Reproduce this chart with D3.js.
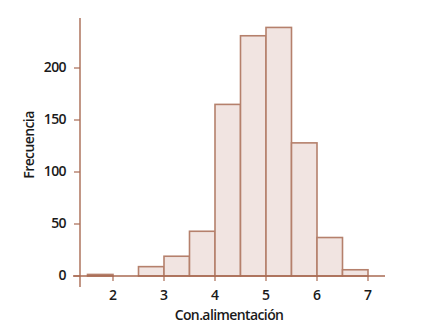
<!DOCTYPE html>
<html><head><meta charset="utf-8">
<script src="https://cdn.jsdelivr.net/npm/d3@7"></script>
<style>body{margin:0;background:#fff}</style>
</head><body>
<svg id="c" width="442" height="336"></svg>
<script>
const binStarts = [1.5, 2.5, 3, 3.5, 4, 4.5, 5, 5.5, 6, 6.5];
const binWidth = 0.5;
const counts = [1.5, 9, 19, 43, 165, 231, 239, 128, 37, 6];
const xTicks = [2, 3, 4, 5, 6, 7];
const yTicks = [0, 50, 100, 150, 200];
const xLabel = "Con.alimentación";
const yLabel = "Frecuencia";

const svg = d3.select("#c");
const axisColor = "#a86a52";
const x = d3.scaleLinear().domain([2, 7]).range([113, 368]);
const y = d3.scaleLinear().domain([0, 200]).range([276, 68]);
const font = "'Open Sans', sans-serif";

// bars
svg.append("g").selectAll("rect").data(binStarts).join("rect")
  .attr("x", (d) => x(d))
  .attr("y", (d, i) => y(counts[i]))
  .attr("width", (d) => x(d + binWidth) - x(d))
  .attr("height", (d, i) => y(0) - y(counts[i]))
  .attr("fill", "#f1e4e1")
  .attr("stroke", "#b5806c")
  .attr("stroke-width", 1.6);

// axes lines
svg.append("line").attr("x1", 80).attr("x2", 80).attr("y1", 18).attr("y2", 287)
  .attr("stroke", axisColor).attr("stroke-width", 1.4);
svg.append("line").attr("x1", 73).attr("x2", 385).attr("y1", y(0)).attr("y2", y(0))
  .attr("stroke", axisColor).attr("stroke-width", 1.4);

// y ticks
const yg = svg.append("g").attr("transform", "translate(80,0)");
yg.selectAll("line").data(yTicks).join("line")
  .attr("x1", -6).attr("x2", 0).attr("y1", (d) => y(d)).attr("y2", (d) => y(d))
  .attr("stroke", axisColor).attr("stroke-width", 1.2);
yg.selectAll("text").data(yTicks).join("text")
  .attr("x", -14).attr("y", (d) => y(d) - 1).attr("dy", "0.35em")
  .attr("text-anchor", "end").attr("font-family", font).attr("font-size", 14)
  .attr("font-weight", 600).attr("letter-spacing", "-0.6px")
  .attr("fill", "#1a1a1a").text((d) => d);

// x ticks
const xg = svg.append("g");
xg.selectAll("line").data(xTicks).join("line")
  .attr("x1", (d) => x(d)).attr("x2", (d) => x(d)).attr("y1", y(0)).attr("y2", y(0) + 5)
  .attr("stroke", axisColor).attr("stroke-width", 1.2);
xg.selectAll("text").data(xTicks).join("text")
  .attr("x", (d) => x(d)).attr("y", 295).attr("dy", "0.35em")
  .attr("text-anchor", "middle").attr("font-family", font).attr("font-size", 14)
  .attr("font-weight", 600)
  .attr("fill", "#1a1a1a").text((d) => d);

// axis labels
svg.append("text").attr("x", 229).attr("y", 315).attr("dy", "0.35em")
  .attr("text-anchor", "middle").attr("font-family", font).attr("font-size", 14)
  .attr("font-weight", 600).attr("letter-spacing", "-0.6px")
  .attr("fill", "#1a1a1a").text(xLabel);
svg.append("text").attr("transform", "translate(29,145) rotate(-90)").attr("dy", "0.35em")
  .attr("text-anchor", "middle").attr("font-family", font).attr("font-size", 14)
  .attr("font-weight", 600).attr("letter-spacing", "-0.6px")
  .attr("fill", "#1a1a1a").text(yLabel);
</script>
</body></html>
